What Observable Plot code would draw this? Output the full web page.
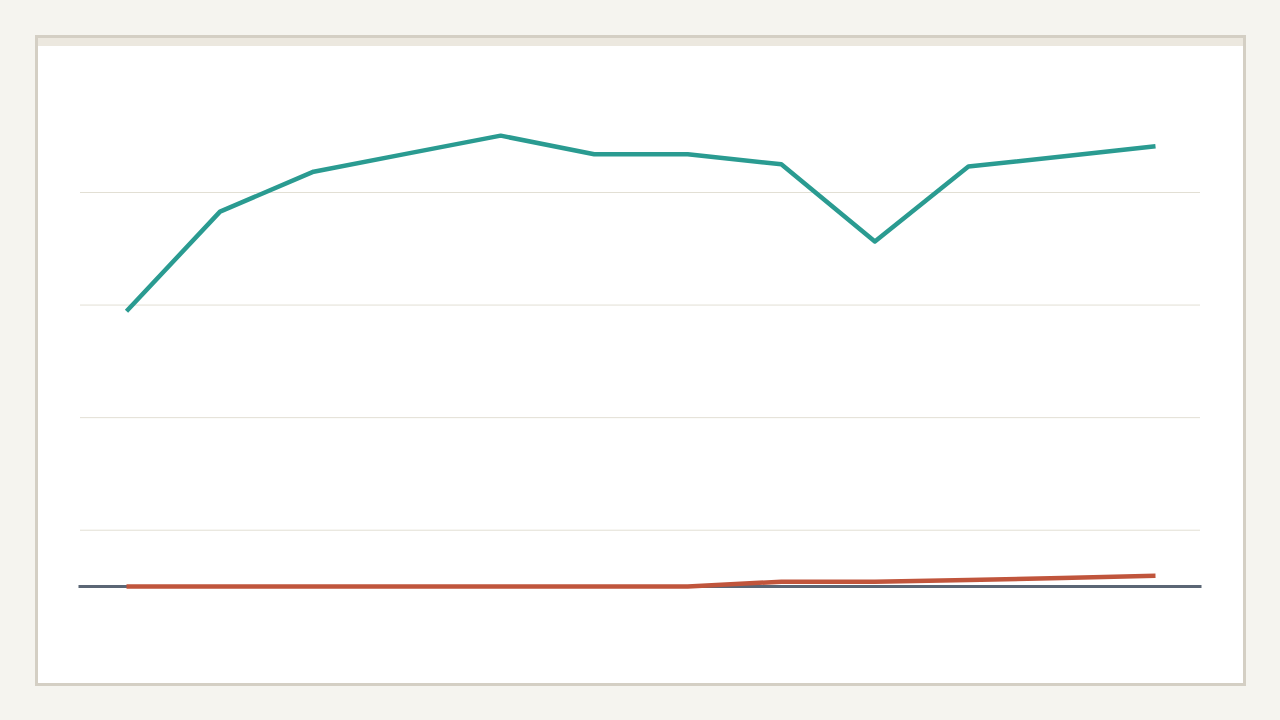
<!DOCTYPE html>
<html>
<head>
<meta charset="utf-8">
<script src="https://cdn.jsdelivr.net/npm/d3@7"></script>
<script src="https://cdn.jsdelivr.net/npm/@observablehq/plot@0.6"></script>
<style>
  html, body { margin: 0; padding: 0; background: #f5f4ef; width: 1280px; height: 720px; overflow: hidden; font-family: "Noto Sans", sans-serif; }
  #card { position: absolute; left: 35px; top: 35px; width: 1205px; height: 645px; border: 3px solid #d4cfc4; background: #ffffff; }
  #strip { position: absolute; left: 0; top: 0; width: 1205px; height: 8px; background: #ece8df; }
  #chart { position: absolute; left: 0; top: 8px; }
  #chart svg { display: block; }
</style>
</head>
<body>
<div id="card"><div id="strip"></div><div id="chart"></div></div>
<script>
const years = ["2012","2013","2014","2015","2016","2017","2018","2019","2020","2021","2022","2023"];
const seriesA = [48.9, 66.6, 73.7, 76.9, 80.1, 76.8, 76.8, 75.0, 61.3, 74.6, 76.4, 78.2];
const seriesB = [0, 0, 0, 0, 0, 0, 0, 0.85, 0.85, 1.15, 1.5, 1.9];
const gridTicks = [10, 30, 50, 70];

const rowsA = years.map((yr, i) => ({year: yr, value: seriesA[i]}));
const rowsB = years.map((yr, i) => ({year: yr, value: seriesB[i]}));

const W = 1205, H = 637, top0 = 46, left0 = 38;
const chart = Plot.plot({
  width: W,
  height: H,
  marginLeft: 42,
  marginRight: 43,
  marginTop: 20,
  marginBottom: 40,
  style: {background: "transparent", overflow: "visible"},
  x: {type: "point", domain: years, padding: 0, round: false, range: [126 - left0, 1155 - left0], axis: null},
  y: {domain: [0, 70], range: [586 - top0, 192 - top0], axis: null},
  marks: [
    Plot.gridY(gridTicks, {stroke: "#e2dfd4", strokeOpacity: 1, strokeWidth: 1}),
    Plot.ruleY([0], {stroke: "#5b6675", strokeWidth: 3, strokeLinecap: "square"}),
    Plot.line(rowsB, {x: "year", y: "value", stroke: "#c0553c", strokeWidth: 4.5, strokeLinecap: "butt", strokeLinejoin: "round"}),
    Plot.line(rowsA, {x: "year", y: "value", stroke: "#2a9b91", strokeWidth: 4.5, strokeLinecap: "butt", strokeLinejoin: "round"})
  ]
});
document.getElementById("chart").appendChild(chart);
</script>
</body>
</html>
